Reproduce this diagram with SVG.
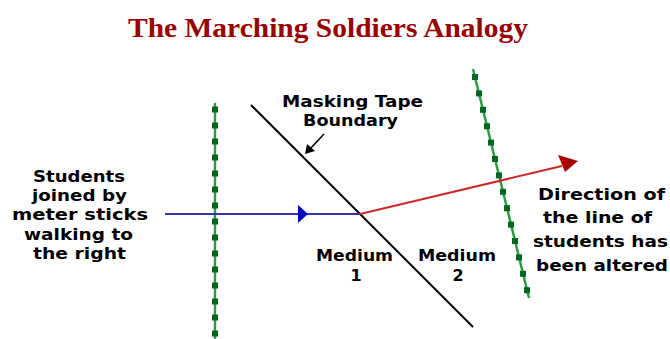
<svg xmlns="http://www.w3.org/2000/svg" width="670" height="339" viewBox="0 0 670 339">
<defs>
<style>
.t{font-family:"DejaVu Sans","Liberation Sans",sans-serif;font-weight:bold;font-size:16px;fill:#000;text-anchor:middle}
.title{font-family:"Liberation Serif","DejaVu Serif",serif;font-weight:bold;font-size:28px;fill:#990000;text-anchor:middle}
.g{stroke:#339944;stroke-width:2.5;fill:none}
.d{fill:#006622}
</style>
<rect id="dot" x="-3" y="-3" width="6" height="6" class="d"/>
</defs>
<rect width="670" height="339" fill="#fff"/>
<text class="title" x="328" y="37" textLength="400" lengthAdjust="spacingAndGlyphs">The Marching Soldiers Analogy</text>

<g id="boundary">
<line x1="251" y1="105" x2="473" y2="327" stroke="#000" stroke-width="2"/>
</g>

<g id="line-left">
<line class="g" x1="215" y1="103" x2="215" y2="339"/>
<use href="#dot" x="215" y="109.5"/><use href="#dot" x="215" y="125.5"/><use href="#dot" x="215" y="141.5"/>
<use href="#dot" x="215" y="157.5"/><use href="#dot" x="215" y="173.5"/><use href="#dot" x="215" y="189.5"/>
<use href="#dot" x="215" y="205.5"/><use href="#dot" x="215" y="221.5"/><use href="#dot" x="215" y="237.5"/>
<use href="#dot" x="215" y="253.5"/><use href="#dot" x="215" y="269.5"/><use href="#dot" x="215" y="285.5"/>
<use href="#dot" x="215" y="301.5"/><use href="#dot" x="215" y="317.5"/><use href="#dot" x="215" y="333.5"/>
</g>

<g id="line-right">
<line class="g" x1="473" y1="69" x2="529" y2="298"/>
<use href="#dot" x="475" y="77"/><use href="#dot" x="479" y="93.4"/><use href="#dot" x="483" y="109.8"/>
<use href="#dot" x="487" y="126.2"/><use href="#dot" x="491" y="142.6"/><use href="#dot" x="495" y="159"/>
<use href="#dot" x="499" y="175.4"/><use href="#dot" x="503" y="191.8"/><use href="#dot" x="507" y="208.2"/>
<use href="#dot" x="511" y="224.6"/><use href="#dot" x="515" y="241"/><use href="#dot" x="519" y="257.4"/>
<use href="#dot" x="523" y="273.8"/><use href="#dot" x="527" y="290.2"/>
</g>

<g id="connectors">
<line x1="165" y1="214" x2="360" y2="214" stroke="#3333aa" stroke-width="2"/>
<polygon points="298,205 308,214 298,223" fill="#0000cc"/>
<line x1="360" y1="214" x2="562" y2="166" stroke="#cc2a2a" stroke-width="2"/>
<polygon points="578,161 558,155 565,172" fill="#aa0000"/>
<line x1="324" y1="134" x2="310" y2="149" stroke="#000" stroke-width="1.5"/>
<polygon points="305,154 307,144 315,151" fill="#000"/>
</g>

<g id="label-students">
<text class="t" x="79" y="182" textLength="92" lengthAdjust="spacingAndGlyphs">Students</text>
<text class="t" x="79.5" y="201" textLength="95" lengthAdjust="spacingAndGlyphs">joined by</text>
<text class="t" x="80" y="220" textLength="136" lengthAdjust="spacingAndGlyphs">meter sticks</text>
<text class="t" x="78.5" y="240" textLength="109" lengthAdjust="spacingAndGlyphs">walking to</text>
<text class="t" x="79.5" y="259" textLength="93" lengthAdjust="spacingAndGlyphs">the right</text>
</g>

<g id="label-boundary">
<text class="t" x="352.5" y="107" textLength="141" lengthAdjust="spacingAndGlyphs">Masking Tape</text>
<text class="t" x="350.5" y="126" textLength="95" lengthAdjust="spacingAndGlyphs">Boundary</text>
</g>

<g id="medium1">
<text class="t" x="354.5" y="261" textLength="77" lengthAdjust="spacingAndGlyphs">Medium</text>
<text class="t" x="356" y="281">1</text>
</g>

<g id="medium2">
<text class="t" x="457" y="261" textLength="78" lengthAdjust="spacingAndGlyphs">Medium</text>
<text class="t" x="458" y="281">2</text>
</g>

<g id="label-direction">
<text class="t" x="601.5" y="200" textLength="127" lengthAdjust="spacingAndGlyphs">Direction of</text>
<text class="t" x="597.5" y="223" textLength="109" lengthAdjust="spacingAndGlyphs">the line of</text>
<text class="t" x="600.5" y="247" textLength="135" lengthAdjust="spacingAndGlyphs">students has</text>
<text class="t" x="602" y="271" textLength="132" lengthAdjust="spacingAndGlyphs">been altered</text>
</g>
</svg>
